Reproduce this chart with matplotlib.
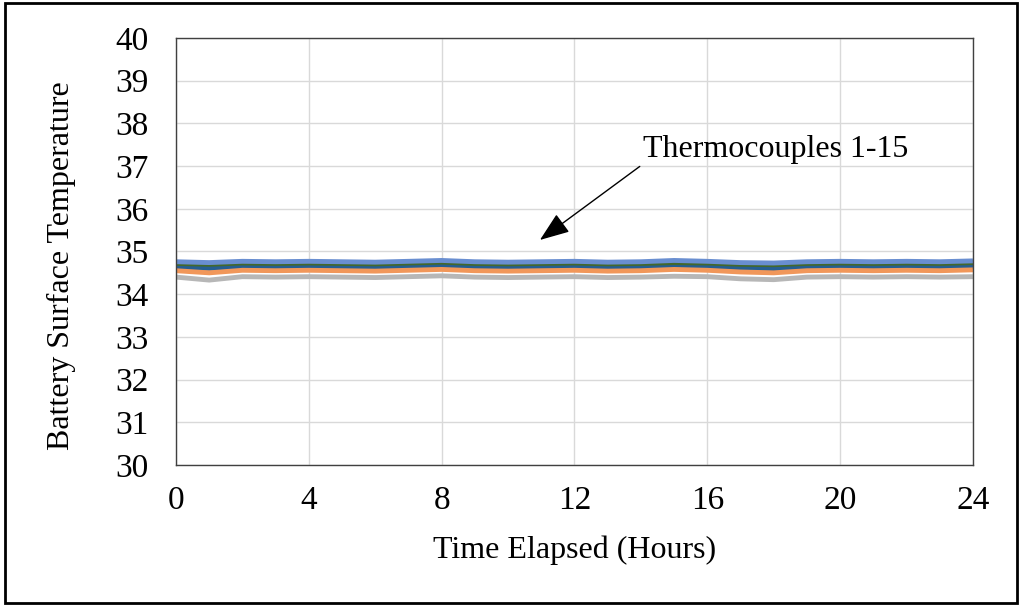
"""Battery surface temperature over 24 h, thermocouples 1-15."""

import matplotlib.pyplot as plt
from matplotlib.patches import Rectangle

plt.rcParams["font.family"] = ["Liberation Serif", "DejaVu Serif"]

hours = list(range(25))

# surface temperature per thermocouple
tc1 = [34.72, 34.70, 34.73, 34.72, 34.74, 34.72, 34.71, 34.73, 34.75, 34.72, 34.71, 34.72, 34.73,
       34.71, 34.72, 34.74, 34.73, 34.70, 34.69, 34.72, 34.73, 34.72, 34.73, 34.72, 34.74]
tc2 = [34.66, 34.63, 34.66, 34.67, 34.66, 34.65, 34.66, 34.67, 34.68, 34.66, 34.65, 34.66, 34.67,
       34.65, 34.66, 34.68, 34.66, 34.64, 34.63, 34.66, 34.67, 34.66, 34.66, 34.67, 34.67]
tc3 = [34.62, 34.59, 34.62, 34.63, 34.62, 34.61, 34.62, 34.63, 34.64, 34.62, 34.61, 34.62, 34.63,
       34.61, 34.62, 34.64, 34.62, 34.60, 34.59, 34.62, 34.63, 34.62, 34.62, 34.63, 34.63]
tc4 = [34.68, 34.66, 34.69, 34.68, 34.69, 34.68, 34.67, 34.69, 34.70, 34.68, 34.67, 34.68, 34.69,
       34.67, 34.68, 34.70, 34.69, 34.66, 34.65, 34.68, 34.69, 34.68, 34.69, 34.68, 34.70]
tc5 = [34.70, 34.68, 34.71, 34.70, 34.72, 34.70, 34.69, 34.71, 34.73, 34.70, 34.69, 34.70, 34.71,
       34.69, 34.70, 34.72, 34.71, 34.68, 34.67, 34.70, 34.71, 34.70, 34.71, 34.70, 34.72]
tc6 = [34.73, 34.71, 34.74, 34.73, 34.74, 34.73, 34.72, 34.74, 34.76, 34.73, 34.72, 34.73, 34.74,
       34.72, 34.73, 34.75, 34.74, 34.71, 34.70, 34.73, 34.74, 34.73, 34.74, 34.73, 34.75]
tc7 = [34.65, 34.62, 34.66, 34.65, 34.66, 34.65, 34.64, 34.66, 34.67, 34.65, 34.64, 34.65, 34.66,
       34.64, 34.65, 34.67, 34.66, 34.63, 34.61, 34.65, 34.66, 34.65, 34.66, 34.65, 34.66]
tc8 = [34.70, 34.67, 34.71, 34.70, 34.71, 34.70, 34.69, 34.71, 34.72, 34.70, 34.69, 34.70, 34.71,
       34.69, 34.70, 34.72, 34.71, 34.68, 34.66, 34.70, 34.71, 34.70, 34.71, 34.70, 34.71]
tc9 = [34.67, 34.65, 34.68, 34.67, 34.68, 34.67, 34.66, 34.68, 34.69, 34.67, 34.66, 34.67, 34.68,
       34.66, 34.67, 34.69, 34.68, 34.65, 34.64, 34.67, 34.68, 34.67, 34.68, 34.67, 34.69]
tc10 = [34.69, 34.67, 34.70, 34.69, 34.70, 34.69, 34.68, 34.70, 34.71, 34.69, 34.68, 34.69, 34.70,
        34.68, 34.69, 34.71, 34.70, 34.67, 34.66, 34.69, 34.70, 34.69, 34.70, 34.69, 34.71]
tc11 = [34.64, 34.61, 34.65, 34.64, 34.65, 34.64, 34.63, 34.65, 34.66, 34.64, 34.63, 34.64, 34.65,
        34.63, 34.64, 34.66, 34.65, 34.62, 34.60, 34.64, 34.65, 34.64, 34.65, 34.64, 34.65]
tc12 = [34.72, 34.70, 34.73, 34.72, 34.73, 34.72, 34.71, 34.73, 34.75, 34.72, 34.71, 34.72, 34.73,
        34.71, 34.72, 34.74, 34.73, 34.70, 34.69, 34.72, 34.73, 34.72, 34.73, 34.72, 34.74]
tc13 = [34.76, 34.74, 34.77, 34.76, 34.77, 34.76, 34.75, 34.77, 34.79, 34.76, 34.75, 34.76, 34.77,
        34.75, 34.76, 34.79, 34.77, 34.74, 34.73, 34.76, 34.77, 34.76, 34.77, 34.76, 34.78]
tc14 = [34.55, 34.50, 34.56, 34.55, 34.56, 34.55, 34.54, 34.56, 34.58, 34.55, 34.54, 34.55, 34.56,
        34.54, 34.55, 34.58, 34.56, 34.52, 34.50, 34.55, 34.56, 34.55, 34.56, 34.55, 34.57]
tc15 = [34.40, 34.33, 34.41, 34.40, 34.41, 34.40, 34.39, 34.41, 34.43, 34.40, 34.39, 34.40, 34.41,
        34.39, 34.40, 34.42, 34.41, 34.36, 34.34, 34.40, 34.41, 34.40, 34.41, 34.40, 34.41]

series = [tc1, tc2, tc3, tc4, tc5, tc6, tc7, tc8, tc9, tc10, tc11, tc12, tc13, tc14, tc15]
colors = ["#4472C4", "#ED7D31", "#A5A5A5", "#FFC000", "#5B9BD5", "#70AD47", "#264478", "#9E480E",
          "#636363", "#997300", "#255E91", "#43682B", "#698ED0", "#F1975A", "#B7B7B7"]

x_ticks = [0, 4, 8, 12, 16, 20, 24]
y_ticks = list(range(30, 41))

fig = plt.figure(figsize=(10.22, 6.06), dpi=100)
ax = fig.add_axes([0.1722, 0.2327, 0.7798, 0.7046])

for i, (vals, c) in enumerate(zip(series, colors)):
    ax.plot(hours, vals, color=c, lw=3.5, solid_capstyle="butt", label=f"TC{i + 1}")

ax.set_xlim(0, 24)
ax.set_ylim(30, 40)
ax.set_xticks(x_ticks)
ax.set_yticks(y_ticks)
ax.grid(True, color="#D9D9D9", lw=1)
ax.set_axisbelow(True)
ax.tick_params(length=0, labelsize=24)
ax.tick_params(axis="y", pad=20)
ax.tick_params(axis="x", pad=15)
for sp in ax.spines.values():
    sp.set_color("#404040")
    sp.set_linewidth(1)

ax.set_xlabel("Time Elapsed (Hours)", fontsize=23, labelpad=14)
ax.set_ylabel("Battery Surface Temperature", fontsize=23)
ax.yaxis.set_label_coords(-0.125, 0.466)

ax.annotate("Thermocouples 1-15", xy=(10.96, 35.27), xytext=(14.05, 37.38),
            fontsize=23, ha="left", va="center",
            arrowprops=dict(arrowstyle="-|>,head_length=0.8,head_width=0.3", color="black",
                            lw=1, shrinkA=0, shrinkB=0, relpos=(0.0, 0.0)))

fig.patches.append(Rectangle((0.005, 0.005), 0.99, 0.99, transform=fig.transFigure,
                             fill=False, edgecolor="black", lw=2))

fig.savefig("out.png", dpi=100)
